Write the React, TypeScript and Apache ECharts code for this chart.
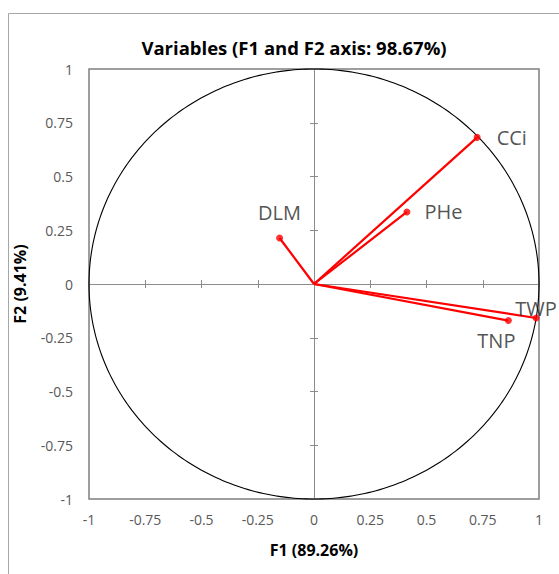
import React, { useEffect, useRef } from "react";
import * as echarts from "echarts";

const chartTitle = "Variables (F1 and F2 axis: 98.67%)";
const xAxisTitle = "F1 (89.26%)";
const yAxisTitle = "F2 (9.41%)";
const variables = ["CCi", "PHe", "DLM", "TWP", "TNP"];
const f1Values = [0.725, 0.413, -0.153, 0.987, 0.864];
const f2Values = [0.682, 0.335, 0.214, -0.158, -0.17];
const axisMin = -1;
const axisMax = 1;
const axisStep = 0.25;

const FONT = "'Open Sans', 'Noto Sans', sans-serif";

const labelPlacement: Record<string, any> = {
  CCi: { position: "right", offset: [11, 0] },
  PHe: { position: "right", offset: [9, 0] },
  DLM: { position: "top", offset: [0, -7] },
  TWP: { position: "top", offset: [0, 9] },
  TNP: { position: "bottom", offset: [-12, 1] },
};

export default function App() {
  const ref = useRef<HTMLDivElement>(null);
  useEffect(() => {
    if (!ref.current) return;
    const chart = echarts.init(ref.current, undefined, { renderer: "svg" });
    const baseAxis = {
      type: "value",
      min: axisMin,
      max: axisMax,
      interval: axisStep,
      splitLine: { show: false },
    };
    const labelAxisX = {
      ...baseAxis,
      position: "bottom",
      axisLine: { show: false, onZero: false },
      axisTick: { show: false },
      axisLabel: { show: true, color: "#595959", fontSize: 14, fontFamily: FONT, margin: 13 },
      name: xAxisTitle,
      nameLocation: "middle",
      nameGap: 43,
      nameTextStyle: { fontWeight: "bold", fontSize: 16, color: "#000", fontFamily: FONT },
    };
    const labelAxisY = {
      ...baseAxis,
      position: "left",
      axisLine: { show: false, onZero: false },
      axisTick: { show: false },
      axisLabel: { show: true, color: "#595959", fontSize: 14, fontFamily: FONT, margin: 16 },
      name: yAxisTitle,
      nameLocation: "middle",
      nameGap: 61,
      nameRotate: 90,
      nameTextStyle: { fontWeight: "bold", fontSize: 16, color: "#000", fontFamily: FONT },
    };
    const tickAxis = (pos: string, inside: boolean, showLine: boolean) => ({
      ...baseAxis,
      position: pos,
      axisLine: { show: showLine, onZero: true, onZeroAxisIndex: 0, lineStyle: { color: "#8c8c8c", width: 1 } },
      axisTick: { show: true, inside, length: 4, lineStyle: { color: "#8c8c8c", width: 1 } },
      axisLabel: { show: false },
    });

    chart.setOption({
      animation: false,
      backgroundColor: "#ffffff",
      title: {
        text: chartTitle,
        left: 289,
        textAlign: "center",
        top: 33,
        textStyle: { fontWeight: "bold", fontSize: 18.5, color: "#000", fontFamily: FONT },
      },
      grid: {
        left: 89,
        right: 20,
        top: 69,
        bottom: 75,
        show: true,
        borderColor: "#7f7f7f",
        borderWidth: 1.5,
        backgroundColor: "transparent",
      },
      xAxis: [labelAxisX, tickAxis("bottom", true, true), tickAxis("bottom", false, false)],
      yAxis: [labelAxisY, tickAxis("left", true, true), tickAxis("left", false, false)],
      graphic: [
        { type: "line", shape: { x1: 8.5, y1: 13.5, x2: 8.5, y2: 574 }, style: { stroke: "#a6a6a6", lineWidth: 1 } },
        { type: "line", shape: { x1: 8.5, y1: 13.5, x2: 559, y2: 13.5 }, style: { stroke: "#a6a6a6", lineWidth: 1 } },
      ],
      series: [
        {
          type: "custom",
          xAxisIndex: 0,
          yAxisIndex: 0,
          data: [[0, 0]],
          silent: true,
          z: 1,
          renderItem: (params: any, api: any) => {
            const pts: number[][] = [];
            for (let i = 0; i <= 360; i++) {
              const a = (i * Math.PI) / 180;
              pts.push(api.coord([Math.cos(a), Math.sin(a)]));
            }
            return {
              type: "polyline",
              shape: { points: pts },
              style: { stroke: "#000000", fill: "none", lineWidth: 1.1 },
            };
          },
        },
        {
          type: "lines",
          coordinateSystem: "cartesian2d",
          xAxisIndex: 0,
          yAxisIndex: 0,
          z: 3,
          lineStyle: { color: "#ff0000", width: 2.2, opacity: 1 },
          data: variables.map((n, i) => ({ coords: [[0, 0], [f1Values[i], f2Values[i]]] })),
        },
        {
          type: "scatter",
          xAxisIndex: 0,
          yAxisIndex: 0,
          z: 4,
          symbol: "circle",
          symbolSize: 7,
          itemStyle: { color: "#ff0000" },
          data: variables.map((n, i) => ({
            name: n,
            value: [f1Values[i], f2Values[i]],
            label: {
              show: true,
              formatter: n,
              color: "#262626",
              fontSize: 20,
              fontFamily: FONT,
              ...labelPlacement[n],
            },
          })),
        },
      ],
    });
    return () => chart.dispose();
  }, []);
  return (
    <div
      ref={ref}
      style={{ position: "absolute", left: 0, top: 0, width: 559, height: 574 }}
    />
  );
}
